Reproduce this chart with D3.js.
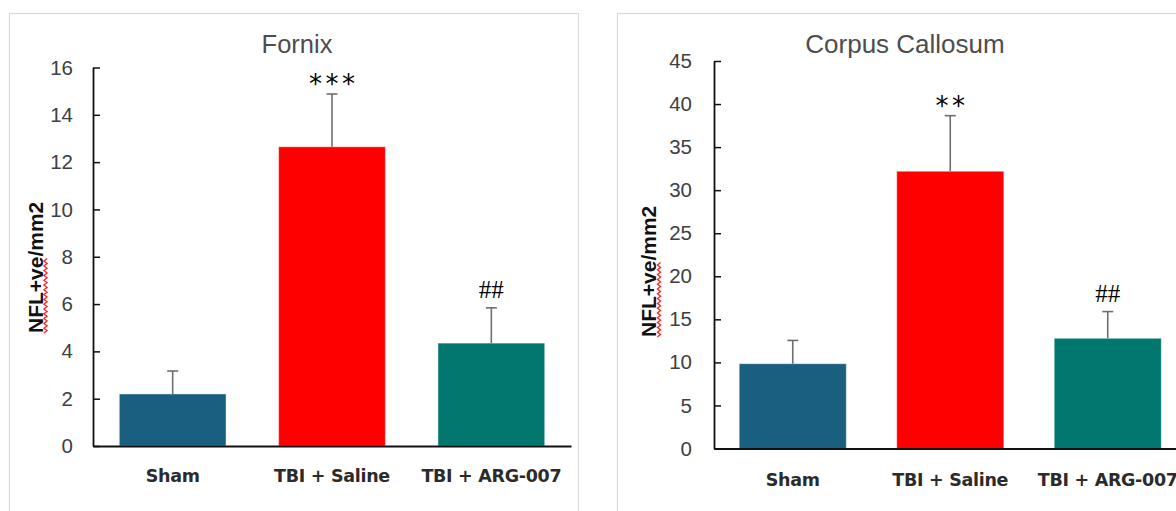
<!DOCTYPE html>
<html>
<head>
<meta charset="utf-8">
<script src="https://cdn.jsdelivr.net/npm/d3@7"></script>
<style>
  html, body { margin: 0; padding: 0; background: #ffffff; }
  svg { display: block; }
</style>
</head>
<body>
<svg id="chart" width="1176" height="511"></svg>
<script>
// Treatment groups shared by both panels
const groups = ["Sham", "TBI + Saline", "TBI + ARG-007"];
const groupColors = ["#1a5e80", "#ff0000", "#02776f"];

// Fornix: mean NFL+ve cells per mm2 and SEM
const fornixMean = [2.2, 12.65, 4.35];
const fornixSem = [0.97, 2.23, 1.49];
const fornixTicks = [0, 2, 4, 6, 8, 10, 12, 14, 16];
const fornixMarks = ["", "***", "##"];

// Corpus callosum: mean NFL+ve cells per mm2 and SEM
const ccMean = [9.85, 32.2, 12.8];
const ccSem = [2.7, 6.45, 3.1];
const ccTicks = [0, 5, 10, 15, 20, 25, 30, 35, 40, 45];
const ccMarks = ["", "**", "##"];

const yLabel = "NFL+ve/mm2";

const svg = d3.select("#chart");

function drawPanel(p) {
  const g = svg.append("g");

  // panel border
  g.append("rect")
    .attr("x", p.frame[0]).attr("y", p.frame[1])
    .attr("width", p.frame[2]).attr("height", p.frame[3])
    .attr("fill", "#ffffff")
    .attr("stroke", "#d9d9d9").attr("stroke-width", 1.2);

  const x = d3.scaleBand()
    .domain(groups)
    .range([p.x0, p.x1])
    .paddingInner(p.pad)
    .paddingOuter(p.pad / 2);

  const y = d3.scaleLinear()
    .domain([p.ticks[0], p.ticks[p.ticks.length - 1]])
    .range([p.yBottom, p.yTop]);

  const rows = groups.map((name, i) => ({
    name, mean: p.mean[i], sem: p.sem[i], mark: p.marks[i], color: groupColors[i]
  }));

  // title
  g.append("text")
    .attr("x", p.titleX).attr("y", p.titleY)
    .attr("text-anchor", "middle")
    .attr("font-family", "'Liberation Sans', Arial, sans-serif")
    .attr("font-size", p.titleSize)
    .attr("fill", "#4d4d4d")
    .text(p.title);

  // bars
  g.selectAll("rect.bar").data(rows).join("rect")
    .attr("class", "bar")
    .attr("x", d => x(d.name))
    .attr("width", x.bandwidth())
    .attr("y", d => y(d.mean))
    .attr("height", d => y(0) - y(d.mean))
    .attr("fill", d => d.color)
    .attr("stroke", "rgba(255,255,255,0.45)")
    .attr("stroke-width", 1);

  // upper error bars
  const cx = d => x(d.name) + x.bandwidth() / 2;
  const err = g.append("g")
    .attr("stroke", "#6e6e6e").attr("stroke-width", 1.6).attr("fill", "none");
  err.selectAll("line.stem").data(rows).join("line")
    .attr("class", "stem")
    .attr("x1", cx).attr("x2", cx)
    .attr("y1", d => y(d.mean)).attr("y2", d => y(d.mean + d.sem));
  err.selectAll("line.cap").data(rows).join("line")
    .attr("class", "cap")
    .attr("x1", d => cx(d) - 5.5).attr("x2", d => cx(d) + 5.5)
    .attr("y1", d => y(d.mean + d.sem)).attr("y2", d => y(d.mean + d.sem));

  // significance markers: stars vs. sham, hashes vs. saline
  const isHash = d => d.mark[0] === "#";
  g.selectAll("text.mark").data(rows.filter(d => d.mark)).join("text")
    .attr("class", "mark")
    .attr("x", d => cx(d) + (isHash(d) ? 0 : 1.75))
    .attr("y", d => y(d.mean + d.sem) - (isHash(d) ? 10 : 1))
    .attr("text-anchor", "middle")
    .attr("font-family", d => isHash(d)
      ? "'Liberation Serif', 'Times New Roman', serif"
      : "'DejaVu Sans', Verdana, sans-serif")
    .attr("font-size", d => isHash(d) ? 25 : 26)
    .attr("letter-spacing", d => isHash(d) ? 0 : 3.5)
    .attr("fill", "#000000")
    .text(d => d.mark);

  // y axis with inward ticks
  const yAxis = g.append("g")
    .attr("transform", `translate(${p.x0},0)`)
    .call(d3.axisLeft(y).tickValues(p.ticks).tickSize(-7).tickSizeOuter(0).tickPadding(p.tickGap));
  yAxis.select(".domain").attr("stroke", "#111111").attr("stroke-width", 1.8);
  yAxis.selectAll(".tick line").attr("stroke", "#111111").attr("stroke-width", 1.5);
  yAxis.selectAll(".tick text")
    .attr("font-family", "'Liberation Sans', Arial, sans-serif")
    .attr("font-size", 20.5)
    .attr("fill", "#404040");

  // x axis
  const xAxis = g.append("g")
    .attr("transform", `translate(0,${p.yBottom})`)
    .call(d3.axisBottom(x).tickSize(0).tickSizeOuter(0));
  xAxis.select(".domain").attr("stroke", "#111111").attr("stroke-width", 1.8);
  xAxis.selectAll(".tick text")
    .attr("y", p.xLabelOffset).attr("dy", 0)
    .attr("font-family", "'DejaVu Sans', Verdana, sans-serif")
    .attr("font-weight", "bold")
    .attr("font-size", 17.5)
    .attr("letter-spacing", -0.3)
    .attr("fill", "#2b2b2b");

  // y axis title
  const lab = g.append("text")
    .attr("transform", `translate(${p.yLabelX},${p.yLabelBottom}) rotate(-90)`)
    .attr("text-anchor", "start")
    .attr("font-family", "'Liberation Sans', Arial, sans-serif")
    .attr("font-weight", "bold")
    .attr("font-size", 21)
    .attr("fill", "#111111")
    .text(yLabel);

  // wavy proofing underline beneath "NFL+ve"
  const len = lab.node().getSubStringLength(0, 6);
  const pts = [];
  for (let s = 0, k = 0; s <= len; s += 2.4, k++) {
    pts.push([p.yLabelX + 3 + (k % 2 ? 1.6 : -1.6), p.yLabelBottom - s]);
  }
  g.append("path")
    .attr("d", d3.line()(pts))
    .attr("fill", "none")
    .attr("stroke", "#ff1a1a")
    .attr("stroke-width", 1.2);
}

drawPanel({
  title: "Fornix", titleX: 297, titleY: 53, titleSize: 25.5,
  frame: [9.5, 13.5, 569, 520],
  x0: 93, x1: 571, pad: 0.33,
  yTop: 67.5, yBottom: 446,
  ticks: fornixTicks, mean: fornixMean, sem: fornixSem, marks: fornixMarks,
  tickGap: 20, xLabelOffset: 35.7,
  yLabelX: 42.5, yLabelBottom: 333
});

drawPanel({
  title: "Corpus Callosum", titleX: 905, titleY: 53, titleSize: 26,
  frame: [617.5, 13.5, 620, 520],
  x0: 714, x1: 1186.5, pad: 0.32,
  yTop: 61, yBottom: 448.5,
  ticks: ccTicks, mean: ccMean, sem: ccSem, marks: ccMarks,
  tickGap: 22, xLabelOffset: 37.5,
  yLabelX: 656, yLabelBottom: 337
});
</script>
</body>
</html>
